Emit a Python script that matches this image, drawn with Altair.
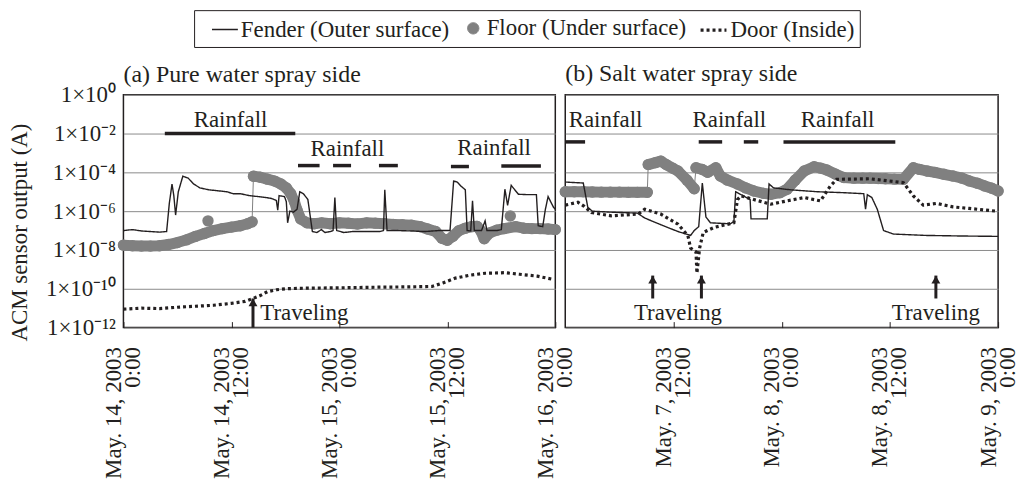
import altair as alt
import pandas as pd

FONT = "Liberation Serif"
INK = "#231f20"
GRAY = "#808080"
GRID = "#8a8a8a"
FS = 23

SERIES = ["Fender (Outer surface)", "Floor (Under surface)", "Door (Inside)"]

# ---- axes ----
Y_TICKS = [1, 1e-2, 1e-4, 1e-6, 1e-8, 1e-10, 1e-12]
Y_TICK_EXP = [0, -2, -4, -6, -8, -10, -12]
Y_TICK_LABELS = ["1×10⁰", "1×10⁻²", "1×10⁻⁴", "1×10⁻⁶", "1×10⁻⁸", "1×10⁻¹⁰", "1×10⁻¹²"]

A_X_TICKS = [0, 12, 24, 36, 48]
A_X_LABELS = [["May. 14, 2003", "0:00"], ["May. 14, 2003", "12:00"], ["May. 15, 2003", "0:00"],
              ["May. 15, 2003", "12:00"], ["May. 16, 2003", "0:00"]]
B_X_TICKS = [12, 24, 36, 48]
B_X_LABELS = [["May. 7, 2003", "12:00"], ["May. 8, 2003", "0:00"], ["May. 8, 2003", "12:00"],
              ["May. 9, 2003", "0:00"]]

# ---- panel (a): hours since May 14 0:00, values as log10 exponents ----
A_FENDER_H = [0, 1, 2, 3, 4, 4.8, 5.1, 5.4, 5.6, 5.8, 6.1, 6.6, 7.2, 7.8, 8.5, 9.5, 10.5, 11.5, 12.2, 13, 14, 15,
              15.9, 16.5, 17, 17.15, 17.3, 17.9, 18.1, 18.25, 18.5, 18.9, 19.3, 19.6, 20.0, 20.5, 21.0, 21.5, 22,
              22.4, 23, 23.3, 23.5, 23.7, 24.5, 25.5, 26.5, 27.5, 28.5, 28.9, 29.05, 29.3, 30.5, 32, 33.5, 35,
              36.3, 36.7, 37.1, 37.5, 38, 38.2, 38.6, 38.8, 39.0, 39.8, 40.2, 40.4, 41.5, 42.0, 42.4, 42.7, 43.1,
              43.9, 45, 45.9, 46.1, 46.6, 46.9, 47.2, 47.8, 48]
A_FENDER_E = [-7.0, -6.95, -7.02, -7.05, -7.08, -7.05, -5.6, -4.6, -5.2, -6.2, -5.0, -4.2, -4.3, -4.6, -4.8, -4.9,
              -4.95, -5.0, -5.1, -5.1, -5.2, -5.25, -5.3, -5.35, -5.45, -5.95, -5.2, -5.25, -5.5, -6.6, -6.0,
              -6.05, -5.9, -5.0, -5.1, -5.4, -7.05, -7.1, -6.95, -7.1, -7.05, -7.0, -5.3, -7.0, -7.1, -7.05,
              -7.05, -7.05, -7.05, -7.0, -4.9, -7.0, -7.0, -7.02, -7.05, -7.0, -7.0, -4.45, -4.5, -4.7, -4.9,
              -7.0, -7.02, -5.47, -7.0, -7.0, -6.5, -7.0, -7.0, -6.95, -4.87, -5.7, -4.67, -5.13, -5.15, -5.15,
              -6.75, -6.8, -5.9, -5.25, -5.8, -5.9]

A_FLOOR_H = [0, 1, 2, 3, 4, 5, 6, 7, 8, 9, 10, 11, 12, 13, 13.8, 14.3,
             14.45, 15.2, 16, 16.8, 17.5, 18.1, 18.6, 19.0, 19.3, 19.7, 20.4, 21.2, 22, 23, 24, 25, 26, 27, 28, 29,
             30, 31, 32, 33, 33.8, 34.7, 35.4, 36, 36.6, 37.3, 38, 38.7, 39.3, 39.7, 40.1, 40.7, 41.5, 42.3,
             43.6, 44.5, 45.4, 46.3, 47.2, 48]
A_FLOOR_E = [-7.75, -7.78, -7.8, -7.8, -7.78, -7.72, -7.62, -7.48, -7.3, -7.15, -7.0, -6.9, -6.82, -6.75, -6.65,
             -6.55,
             -4.2, -4.25, -4.35, -4.45, -4.6, -4.8, -5.1, -5.5, -5.95, -6.4, -6.6, -6.65, -6.6, -6.65, -6.6, -6.62,
             -6.66, -6.6, -6.62, -6.65, -6.68, -6.7, -6.72, -6.8, -6.92, -7.05, -7.4, -7.5, -7.3, -7.0, -6.88,
             -6.8, -6.78, -7.0, -7.42, -7.12, -6.98, -6.9, -6.8, -6.88, -6.9, -6.9, -6.92, -6.95]
A_FLOOR_SEG = [0] * 16 + [1] * 44
A_FLOOR_OUT_H = [9.4, 43.0]
A_FLOOR_OUT_E = [-6.5, -6.25]

A_DOOR_H = [0, 2, 4, 6, 8, 10, 12, 13.5, 14.4, 15.2, 16, 17, 18, 20, 24, 28, 32, 34.3, 35.5, 36.9, 38.5, 40.2,
            42.4, 44, 46, 47.6]
A_DOOR_E = [-11.05, -11.0, -11.02, -10.95, -10.9, -10.85, -10.75, -10.65, -10.5, -10.35, -10.15, -10.05, -10.0,
            -9.97, -9.95, -9.92, -9.9, -9.88, -9.7, -9.45, -9.3, -9.2, -9.17, -9.25, -9.35, -9.5]

A_RAIN_START = [4.6, 19.4, 23.3, 28.4, 36.4, 42.0]
A_RAIN_END = [19.1, 21.8, 25.3, 30.5, 38.4, 46.4]
A_RAIN_LEVEL = [-2.0, -3.65, -3.65, -3.65, -3.7, -3.67]
A_RAIN_LABEL_H = [11.9, 24.9, 41.2]
A_RAIN_LABEL_E = [-1.28, -2.82, -2.77]

A_ARROW_H = [14.4]
A_ARROW_BASE = [-12.0]
A_ARROW_TIP = [-10.5]
A_TRAVEL_H = [20.1]
A_TRAVEL_E = [-11.25]

# ---- panel (b): hours since May 7 0:00 ----
B_FENDER_H = [0, 2.0, 2.5, 3.0, 5, 8, 8.8, 10.6, 12.5, 13.9, 14.3, 14.8, 15.2, 15.6, 16.1, 18.3, 18.7, 18.9,
              20.5, 20.6, 22.4, 22.6, 23.1, 25, 28, 31, 33.1, 33.3, 33.5, 34, 34.6, 35.3, 36.4, 40, 44, 48]
B_FENDER_E = [-4.5, -4.55, -5.8, -6.0, -6.05, -6.1, -6.35, -6.7, -7.05, -7.25, -7.0, -6.8, -4.55, -6.3, -6.6,
              -6.65, -6.55, -5.0, -5.4, -6.4, -6.4, -4.6, -4.8, -4.9, -5.0, -5.05, -5.1, -5.9, -5.15, -5.3,
              -5.9, -7.0, -7.18, -7.25, -7.28, -7.3]

B_FLOOR_H = [0, 1, 2, 3, 4, 5, 6, 7, 8, 9.1,
             9.2, 10, 10.6, 11.2, 11.9, 12.5, 13.5, 14.3,
             14.5, 15.2, 15.8, 16.7, 17.2, 18, 19.1, 20, 20.9, 22, 22.8, 23.8, 24.6, 25.5, 26.5, 27.6, 28.3,
             29, 30, 30.9, 32, 33, 33.8, 34.7, 35.5, 36.5, 37.5, 38.6, 39.3, 40.1, 41, 42, 43, 44, 44.8, 45.7,
             46.5, 47.3, 48]
B_FLOOR_E = [-5.0, -5.0, -5.0, -5.01, -5.02, -5.02, -5.02, -5.03, -5.03, -5.03,
             -3.6, -3.5, -3.42, -3.6, -3.78, -3.93, -4.4, -4.85,
             -3.76, -3.85, -4.0, -3.76, -4.19, -4.4, -4.6, -4.8, -4.96, -5.08, -5.13, -5.05, -4.87, -4.4, -3.93,
             -3.71, -3.78, -3.88, -4.1, -4.27, -4.3, -4.3, -4.3, -4.32, -4.33, -4.35, -4.36, -3.76, -3.85, -3.93,
             -4.0, -4.1, -4.19, -4.3, -4.44, -4.56, -4.7, -4.82, -4.96]
B_FLOOR_SEG = [0] * 10 + [1] * 8 + [2] * 39
B_FLOOR_OUT_H = []
B_FLOOR_OUT_E = []

B_DOOR_H = [0, 1.4, 2.1, 2.9, 5.1, 8.1, 8.8, 10.6, 12.5, 13.6, 13.9, 14.5, 14.6, 14.9, 15.3, 16.5, 18.7, 19.1,
            19.5, 20.9, 22.8, 24.6, 26.5, 28.3, 29.4, 30.1, 33.8, 37.5, 38.6, 39.7, 41.2, 43, 44.8, 47.8]
B_DOOR_E = [-5.69, -5.54, -5.75, -6.07, -6.24, -6.15, -5.9, -6.15, -6.67, -7.26, -7.9, -8.1, -9.2, -7.9, -7.1,
            -6.84, -6.6, -5.4, -5.21, -5.4, -5.64, -5.47, -5.3, -5.47, -4.7, -4.36, -4.33, -4.53, -5.21, -5.69,
            -5.6, -5.78, -5.86, -6.0]

B_RAIN_START = [0, 14.8, 19.8, 24.2]
B_RAIN_END = [2.2, 17.4, 21.4, 36.6]
B_RAIN_LEVEL = [-2.43, -2.43, -2.43, -2.43]
B_RAIN_LABEL_H = [4.47, 18.2, 30.2]
B_RAIN_LABEL_E = [-1.28, -1.28, -1.28]

B_ARROW_H = [9.7, 15.1, 41.1]
B_ARROW_BASE = [-10.5, -10.5, -10.5]
B_ARROW_TIP = [-9.32, -9.32, -9.32]
B_TRAVEL_H = [12.5, 41.1]
B_TRAVEL_E = [-11.25, -11.25]

# legend / series styling (one entry per series, in SERIES order)
S_COLOR = [INK, GRAY, INK]
S_SHAPE = ["stroke", "circle", "stroke"]
S_SIZE = [676, 130, 676]
S_WIDTH = [1.4, 1, 3.2]
S_DASH = [[1, 0], [1, 0], [3, 3]]


def x_label_expr(ticks, labels):
    parts = [f"datum.value == {t} ? ['{a}', '{b}']" for t, (a, b) in zip(ticks, labels)]
    return " : ".join(parts) + " : ''"


Y_LABEL_EXPR = " : ".join(
    f"round(log(datum.value) / LN10) == {e} ? '{lab}'" for e, lab in zip(Y_TICK_EXP, Y_TICK_LABELS)
) + " : ''"

LEGEND = alt.Legend(
    title=None, orient="none", legendX=71, legendY=-85, direction="horizontal",
    labelFont=FONT, labelFontSize=FS, labelColor=INK, labelLimit=500, labelOffset=2,
    strokeColor=INK, padding=5, columnPadding=0, symbolOffset=12, symbolOpacity=1,
)

COLOR = alt.Color("series:N", scale=alt.Scale(domain=SERIES, range=S_COLOR), legend=LEGEND)
SHAPE = alt.Shape("series:N", scale=alt.Scale(domain=SERIES, range=S_SHAPE), legend=LEGEND)
SIZE = alt.Size("series:N", scale=alt.Scale(type="ordinal", domain=SERIES, range=S_SIZE), legend=LEGEND)
WIDTH = alt.StrokeWidth("series:N", scale=alt.Scale(type="ordinal", domain=SERIES, range=S_WIDTH), legend=LEGEND)
DASH = alt.StrokeDash("series:N", scale=alt.Scale(domain=SERIES, range=S_DASH), legend=LEGEND)

V = "pow(10, datum.e)"


def panel(title, fh, fe, lh, le, lseg, oh, oe, dh, de, rs, re_, rl, rlh, rle, ah, ab, at, th, te, xt, xl,
          show_y, width):
    xaxis = alt.Axis(values=xt, labelExpr=x_label_expr(xt, xl), labelAngle=-90, labelAlign="right",
                     labelBaseline="middle", labelPadding=19, labelLineHeight=19, labelFont=FONT,
                     labelFontSize=FS, labelColor=INK, labelOverlap=False, labelFlush=False,
                     labelOffset=-10, offset=-6, ticks=True, tickSize=6, tickColor=INK, tickWidth=1,
                     domain=False, grid=False, title=None)
    if show_y:
        yaxis = alt.Axis(values=Y_TICKS, labelExpr=Y_LABEL_EXPR, labelFont=FONT, labelFontSize=FS,
                         labelColor=INK, labelPadding=8, ticks=False, domain=False, grid=True,
                         gridColor=GRID, gridWidth=1, labelOverlap=False, labelFlush=False,
                         title="ACM sensor output (A)", titleFont=FONT, titleFontSize=FS,
                         titleFontWeight="normal", titleColor=INK, titleX=-92, titleY=138)
    else:
        yaxis = alt.Axis(values=Y_TICKS, labels=False, ticks=False, domain=False, grid=True,
                         gridColor=GRID, gridWidth=1, title=None)
    xs = alt.Scale(domain=[0, 48], nice=False, zero=False)
    ys = alt.Scale(type="log", domain=[1e-12, 1], nice=False)

    def X(f):
        return alt.X(f"{f}:Q", scale=xs, axis=xaxis)

    def Y(f):
        return alt.Y(f"{f}:Q", scale=ys, axis=yaxis)

    fender = pd.DataFrame({"h": fh, "e": fe, "series": SERIES[0]})
    floor = pd.DataFrame({"h": lh, "e": le, "seg": lseg, "series": SERIES[1]})
    floor_out = pd.DataFrame({"h": oh, "e": oe, "series": SERIES[1]})
    door = pd.DataFrame({"h": dh, "e": de, "series": SERIES[2]})
    rain = pd.DataFrame({"h0": rs, "h1": re_, "e": rl})
    rain_lbl = pd.DataFrame({"h": rlh, "e": rle, "t": "Rainfall"})
    arrows = pd.DataFrame({"h": ah, "b": ab, "tp": at})
    trav = pd.DataFrame({"h": th, "e": te, "t": "Traveling"})

    floor_line = alt.Chart(floor).transform_calculate(v=V).mark_line(strokeWidth=1).encode(
        x=X("h"), y=Y("v"), color=COLOR)
    floor_band = alt.Chart(floor).transform_calculate(v=V).mark_line(
        strokeWidth=11, strokeCap="round", strokeJoin="round", color=GRAY).encode(
        x=X("h"), y=Y("v"), detail="seg:N")
    floor_pts = alt.Chart(floor).transform_calculate(v=V).mark_point(filled=True, opacity=1).encode(
        x=X("h"), y=Y("v"), color=COLOR, shape=SHAPE, size=SIZE)
    layers = [floor_line, floor_band, floor_pts]
    if len(oh):
        layers.append(alt.Chart(floor_out).transform_calculate(v=V).mark_point(filled=True, opacity=1).encode(
            x=X("h"), y=Y("v"), color=COLOR, shape=SHAPE, size=SIZE))
    fender_line = alt.Chart(fender).transform_calculate(v=V).mark_line().encode(
        x=X("h"), y=Y("v"), color=COLOR, strokeWidth=WIDTH, strokeDash=DASH)
    door_line = alt.Chart(door).transform_calculate(v=V).mark_line().encode(
        x=X("h"), y=Y("v"), color=COLOR, strokeWidth=WIDTH, strokeDash=DASH)
    rain_rules = alt.Chart(rain).transform_calculate(v=V).mark_rule(strokeWidth=3.5, color=INK).encode(
        x=X("h0"), x2="h1:Q", y=Y("v"))
    rain_text = alt.Chart(rain_lbl).transform_calculate(v=V).mark_text(
        font=FONT, fontSize=FS, color=INK, align="center", baseline="middle").encode(
        x=X("h"), y=Y("v"), text="t:N")
    arrow_rule = alt.Chart(arrows).transform_calculate(
        vb="pow(10, datum.b)", vt="pow(10, datum.tp)").mark_rule(strokeWidth=3, color=INK).encode(
        x=X("h"), y=Y("vb"), y2="vt:Q")
    arrow_head = alt.Chart(arrows).transform_calculate(vt="pow(10, datum.tp)").mark_point(
        shape="triangle-up", filled=True, size=80, opacity=1, color=INK, yOffset=4).encode(
        x=X("h"), y=Y("vt"))
    trav_text = alt.Chart(trav).transform_calculate(v=V).mark_text(
        font=FONT, fontSize=FS, color=INK, align="center", baseline="middle").encode(
        x=X("h"), y=Y("v"), text="t:N")

    layers += [fender_line, door_line, rain_rules, rain_text, arrow_rule, arrow_head, trav_text]
    return alt.layer(*layers).properties(
        width=width, height=234,
        title=alt.TitleParams(title, anchor="start", frame="group", font=FONT, fontSize=24,
                              fontWeight="normal", color=INK, offset=9, dy=12 if show_y else 0))


pa = panel("(a) Pure water spray side", A_FENDER_H, A_FENDER_E, A_FLOOR_H, A_FLOOR_E, A_FLOOR_SEG,
           A_FLOOR_OUT_H, A_FLOOR_OUT_E, A_DOOR_H, A_DOOR_E,
           A_RAIN_START, A_RAIN_END, A_RAIN_LEVEL, A_RAIN_LABEL_H, A_RAIN_LABEL_E,
           A_ARROW_H, A_ARROW_BASE, A_ARROW_TIP, A_TRAVEL_H, A_TRAVEL_E, A_X_TICKS, A_X_LABELS, True, 434)
pb = panel("(b) Salt water spray side", B_FENDER_H, B_FENDER_E, B_FLOOR_H, B_FLOOR_E, B_FLOOR_SEG,
           B_FLOOR_OUT_H, B_FLOOR_OUT_E, B_DOOR_H, B_DOOR_E,
           B_RAIN_START, B_RAIN_END, B_RAIN_LEVEL, B_RAIN_LABEL_H, B_RAIN_LABEL_E,
           B_ARROW_H, B_ARROW_BASE, B_ARROW_TIP, B_TRAVEL_H, B_TRAVEL_E, B_X_TICKS, B_X_LABELS, False, 435)

chart = alt.hconcat(pa, pb, spacing=10, bounds="flush").properties(
    padding=0, background="white"
).configure_view(stroke=INK, strokeWidth=1.5)

chart.save("out.html", embed_options={"renderer": "svg", "actions": False})
